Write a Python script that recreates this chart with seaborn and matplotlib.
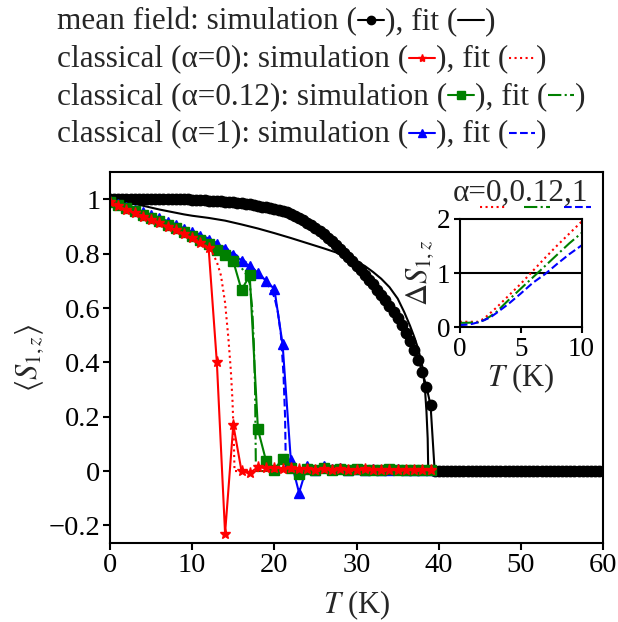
import matplotlib
matplotlib.use("Agg")
import matplotlib.pyplot as plt
import numpy as np
import seaborn as sns
from matplotlib.lines import Line2D
from matplotlib.ticker import FuncFormatter, MultipleLocator
from matplotlib.transforms import IdentityTransform


# mean field simulation, T every 0.5 K from 0 to 60
T_MF = np.arange(0, 60.5, 0.5)
MF_SIM = (
    [1.0] * 20
    + [0.999, 0.999, 0.998, 0.997, 0.996, 0.995, 0.994, 0.993, 0.992, 0.991,
       0.990, 0.988, 0.986, 0.984, 0.982, 0.980, 0.977, 0.974, 0.971, 0.968,
       0.965, 0.961, 0.957, 0.952, 0.946, 0.939, 0.932, 0.924, 0.915, 0.905,
       0.895, 0.884, 0.872, 0.859, 0.846, 0.832, 0.818, 0.803, 0.788, 0.772,
       0.756, 0.739, 0.722, 0.705, 0.687, 0.668, 0.648, 0.628, 0.607, 0.585,
       0.562, 0.537, 0.510, 0.480, 0.447, 0.410, 0.365, 0.310, 0.243]
    + [0.0] * 42
)

T_MF_FIT = [0, 1, 2, 3, 4, 5, 6, 7, 8, 9, 10, 12, 14, 16, 18, 20, 22, 24, 26, 28,
            30, 31, 32, 33, 34, 35, 35.8, 36.5, 37, 37.5, 38, 38.3, 38.5, 38.65,
            38.72, 60]
MF_FIT = [1.0, 0.996, 0.99, 0.984, 0.977, 0.97, 0.963, 0.957, 0.951, 0.945, 0.94,
          0.932, 0.922, 0.908, 0.893, 0.876, 0.858, 0.839, 0.82, 0.8, 0.772, 0.755,
          0.733, 0.708, 0.677, 0.635, 0.585, 0.535, 0.495, 0.45, 0.385, 0.31, 0.22,
          0.12, 0.0, 0.0]

# classical simulations, T every 1 K from 0 to 39
T_CL = list(range(40))
CL0_SIM = [0.99, 0.975, 0.962, 0.95, 0.937, 0.925, 0.912, 0.9, 0.886, 0.872,
           0.857, 0.84, 0.82, 0.40, -0.23, 0.17, 0.0, -0.008, 0.015, 0.01,
           0.013, 0.008, 0.01, 0.006, 0.009, 0.005, 0.007, 0.004, 0.006, 0.005,
           0.004, 0.006, 0.003, 0.005, 0.004, 0.003, 0.004, 0.003, 0.004, 0.002]
CL012_SIM = [0.992, 0.98, 0.968, 0.956, 0.944, 0.932, 0.92, 0.907, 0.894, 0.88,
             0.866, 0.851, 0.835, 0.815, 0.795, 0.772, 0.667, 0.72, 0.153, 0.036,
             0.005, 0.046, 0.012, -0.01, 0.008, 0.004, 0.01, 0.003, 0.006, 0.004,
             0.007, 0.003, 0.005, 0.004, 0.006, 0.003, 0.004, 0.003, 0.005, 0.003]
CL1_SIM = [0.995, 0.985, 0.974, 0.963, 0.952, 0.941, 0.93, 0.918, 0.906, 0.893,
           0.88, 0.866, 0.851, 0.835, 0.818, 0.797, 0.775, 0.755, 0.73, 0.70,
           0.67, 0.466, 0.04, -0.08, 0.02, 0.004, 0.018, 0.006, 0.01, 0.005,
           0.008, 0.004, 0.006, 0.005, 0.004, 0.006, 0.003, 0.005, 0.004, 0.003]

T_CL0_FIT = [0, 2, 4, 6, 8, 10, 11, 12, 12.5, 13, 13.5, 14, 14.4, 14.7, 14.9,
             15.05, 15.15, 39]
CL0_FIT = [0.995, 0.965, 0.94, 0.915, 0.889, 0.86, 0.843, 0.823, 0.80, 0.77,
           0.72, 0.62, 0.49, 0.37, 0.26, 0.13, 0.0, 0.0]
T_CL012_FIT = [0, 2, 4, 6, 8, 10, 12, 14, 15, 16, 16.5, 17, 17.3, 17.5, 17.65,
               17.75, 39]
CL012_FIT = [0.995, 0.97, 0.946, 0.922, 0.897, 0.869, 0.838, 0.80, 0.776, 0.748,
             0.728, 0.69, 0.60, 0.47, 0.30, 0.0, 0.0]
T_CL1_FIT = [0, 2, 4, 6, 8, 10, 12, 14, 16, 17, 18, 19, 19.5, 20, 20.4, 20.8,
             21.1, 21.3, 21.4, 39]
CL1_FIT = [0.998, 0.976, 0.954, 0.932, 0.909, 0.884, 0.856, 0.823, 0.782, 0.758,
           0.73, 0.695, 0.672, 0.64, 0.59, 0.50, 0.36, 0.20, 0.0, 0.0]

# inset: Delta S_{1,z} of the fits
T_INSET = [0, 0.5, 1, 1.5, 2, 2.5, 3, 4, 5, 6, 7, 8, 9, 10]
DS0 = [0.1, 0.1, 0.1, 0.1, 0.16, 0.26, 0.36, 0.58, 0.8, 1.04, 1.28, 1.51, 1.73, 1.95]
DS012 = [0.08, 0.08, 0.085, 0.09, 0.13, 0.2, 0.28, 0.5, 0.71, 0.92, 1.13, 1.34, 1.55, 1.74]
DS1 = [0.04, 0.045, 0.06, 0.09, 0.13, 0.18, 0.26, 0.43, 0.62, 0.82, 0.98, 1.17, 1.35, 1.51]
INSET_REF = 1.0
INSET_TITLE = "\u03b1=0,0.12,1"

RED, GREEN, BLUE, BLACK = "#ff0000", "#008000", "#0000ff", "#000000"

LEGEND_ROWS = [
    ("mean field: simulation (", BLACK, "o", "-"),
    ("classical (\u03b1=0): simulation (", RED, "*", ":"),
    ("classical (\u03b1=0.12): simulation (", GREEN, "s", "-."),
    ("classical (\u03b1=1): simulation (", BLUE, "^", "--"),
]

LEGEND_SIZE = 22.5
TICK_SIZE = 20.5
INSET_TICK_SIZE = 19.5
LABEL_SIZE = 22


def tick_fmt(v, pos):
    v = round(v, 6) + 0.0
    return f"{v:g}".replace("-", "\u2212")


def sim(ax, x, y, color, marker, ms):
    sns.lineplot(x=x, y=y, ax=ax, color=color, marker=marker, markersize=ms,
                 markeredgecolor=color, markeredgewidth=1, linewidth=1.5,
                 estimator=None, sort=False, legend=False)


def fit(ax, x, y, color, ls, lw=1.5):
    sns.lineplot(x=x, y=y, ax=ax, color=color, linestyle=ls, linewidth=lw,
                 estimator=None, sort=False, legend=False)


def draw_legend(fig, renderer):
    x0, y0, step = 57, 622 - 29, 37.5
    ident = IdentityTransform()
    for i, (label, color, marker, ls) in enumerate(LEGEND_ROWS):
        y = y0 - i * step
        x = x0
        for piece, key in [(label, "sim"), ("), fit (", "fit"), (")", None)]:
            t = fig.text(x, y, piece, transform=ident, fontsize=LEGEND_SIZE,
                         va="baseline")
            x = t.get_window_extent(renderer).x1
            if key is None:
                continue
            w, yl = 26, y + 9
            if key == "sim":
                ln = Line2D([x + 1, x + 1 + w / 2, x + 1 + w], [yl] * 3,
                            transform=ident, color=color, lw=1.5, marker=marker,
                            markevery=[1], markersize=6, markeredgecolor=color)
            else:
                ln = Line2D([x + 1, x + 1 + w], [yl] * 2, transform=ident,
                            color=color, lw=1.5, linestyle=ls)
            fig.add_artist(ln)
            x += w + 2


def style_axes(ax, length, size, pad):
    ax.tick_params(direction="out", length=length, width=1.5, labelsize=size,
                   pad=pad, colors="black")
    for sp in ax.spines.values():
        sp.set_linewidth(1.5)
        sp.set_color("black")


def main() -> None:
    sns.set_style("ticks")
    plt.rcParams["font.family"] = ["Liberation Serif", "DejaVu Serif"]
    plt.rcParams["mathtext.fontset"] = "stix"

    fig = plt.figure(figsize=(6.18, 6.22), dpi=100)
    ax = fig.add_axes([0.178, 0.127, 0.798, 0.596])

    sim(ax, T_MF, MF_SIM, BLACK, "o", 7.5)
    fit(ax, T_MF_FIT, MF_FIT, BLACK, "-")
    sim(ax, T_CL, CL1_SIM, BLUE, "^", 7.5)
    fit(ax, T_CL1_FIT, CL1_FIT, BLUE, "--")
    sim(ax, T_CL, CL012_SIM, GREEN, "s", 7)
    fit(ax, T_CL012_FIT, CL012_FIT, GREEN, "-.")
    sim(ax, T_CL, CL0_SIM, RED, "*", 8)
    fit(ax, T_CL0_FIT, CL0_FIT, RED, ":")

    ax.set_xlim(0, 60)
    ax.set_ylim(-0.265, 1.1)
    ax.xaxis.set_major_locator(MultipleLocator(10))
    ax.yaxis.set_major_locator(MultipleLocator(0.2))
    ax.xaxis.set_major_formatter(FuncFormatter(tick_fmt))
    ax.yaxis.set_major_formatter(FuncFormatter(tick_fmt))
    style_axes(ax, 5, TICK_SIZE, 2)
    ax.set_xlabel("$T$ (K)", fontsize=LABEL_SIZE, labelpad=8)
    ax.set_ylabel(r"$\langle S_{1,z}\rangle$", fontsize=LABEL_SIZE, labelpad=2)

    axin = fig.add_axes([0.744, 0.474, 0.197, 0.174])
    axin.axhline(INSET_REF, color=BLACK, lw=1.5)
    fit(axin, T_INSET, DS0, RED, ":")
    fit(axin, T_INSET, DS012, GREEN, "-.")
    fit(axin, T_INSET, DS1, BLUE, "--")
    axin.set_xlim(0, 10)
    axin.set_ylim(0, 2)
    axin.set_xticks([0, 5, 10])
    axin.set_yticks([0, 1, 2])
    style_axes(axin, 4, INSET_TICK_SIZE, 3)
    axin.set_xlabel("$T$ (K)", fontsize=LABEL_SIZE, labelpad=0)
    axin.set_ylabel(r"$\Delta S_{1,z}$", fontsize=LABEL_SIZE, labelpad=0)
    axin.text(0.5, 1.17, INSET_TITLE, transform=axin.transAxes, ha="center",
              va="baseline", fontsize=LEGEND_SIZE)
    for (x0, x1), color, ls in [((0.17, 0.385), RED, ":"), ((0.525, 0.74), GREEN, "-."),
                                ((0.86, 1.08), BLUE, "--")]:
        axin.plot([x0, x1], [1.11, 1.11], transform=axin.transAxes, clip_on=False,
                  color=color, linestyle=ls, lw=1.5)

    renderer = fig.canvas.get_renderer()
    draw_legend(fig, renderer)

    fig.savefig("out.png", dpi=100, facecolor="white")
    plt.close(fig)


if __name__ == "__main__":
    main()
